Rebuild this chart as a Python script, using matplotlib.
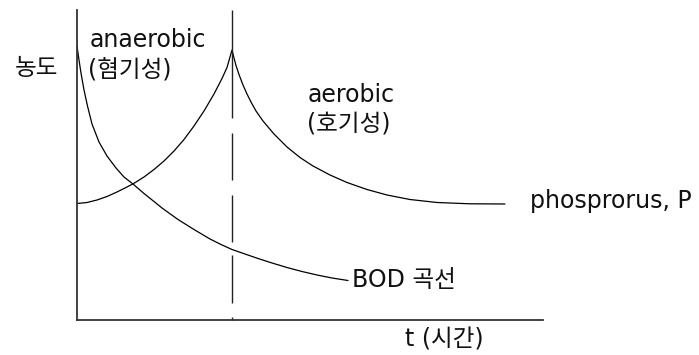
import matplotlib
matplotlib.use("Agg")
import matplotlib.pyplot as plt

plt.rcParams['font.family'] = ['DejaVu Sans', 'Noto Sans CJK KR']

# ---- data (time and concentration in arbitrary units) ----
bod_t = [0, 2, 4, 7, 10.5, 15, 22, 30, 39, 47, 56, 67, 77, 85, 101, 117, 133, 144, 155,
         168, 181, 195, 210, 225, 240, 255, 271]
bod_c = [274, 260, 247, 230, 214, 196, 178, 164, 152, 143, 136, 126.5, 118.5, 112, 100.5, 90.5, 81, 75.5, 70.5,
         66, 61.5, 57, 52.5, 48.5, 45, 42, 39.5]

p_t = [0, 10, 20, 30, 40, 49, 57, 67, 77, 87, 97, 107, 117, 127, 137, 145, 150, 155,
       157, 159, 162, 166, 170, 174, 179, 186, 197, 210, 223, 236, 253, 270, 290, 310, 333, 360, 393, 428]
p_c = [116.5, 117.5, 120, 123.5, 128, 132.5, 136.7, 143, 150.5, 159, 169, 180.5, 194, 209, 226, 241.5, 252.5, 270,
       262, 254.5, 245.5, 235, 226, 218, 209, 199, 186, 173, 162.5, 154, 145, 137.5, 130.5, 125, 120.5, 117.5,
       116.2, 116]

boundary_t = 155
t_max, c_max = 466, 310

y_label = "농도"
x_label = "t (시간)"
p_label = "phosprorus, P"
bod_label = "BOD 곡선"

W, H, DPI = 699, 355, 100
fig = plt.figure(figsize=(W / DPI, H / DPI), dpi=DPI)
ax = fig.add_axes([77 / W, (H - 320) / H, (543 - 77) / W, (320 - 10) / H])
ax.set_xlim(0, t_max)
ax.set_ylim(0, c_max)
for s in ['top', 'right']:
    ax.spines[s].set_visible(False)
for s in ['left', 'bottom']:
    ax.spines[s].set_color('#333333')
    ax.spines[s].set_linewidth(1.3)
ax.set_xticks([])
ax.set_yticks([])

ax.plot(bod_t, bod_c, color='black', lw=0.9, solid_joinstyle='round', solid_capstyle='round')
ax.plot(p_t, p_c, color='black', lw=0.9, solid_joinstyle='round', solid_capstyle='round')

px = 0.72
ax.plot([boundary_t, boundary_t], [c_max, 0], color='#222222', lw=1.0,
        dashes=[108 * px, 15 * px, 47 * px, 15 * px, 47 * px, 13 * px, 48 * px, 14 * px, 20 * px, 0.01],
        clip_on=False)

fs = 17
tc = '#111111'
kw = dict(fontsize=fs, ha='left', va='baseline', color=tc, clip_on=False)
ax.text(13, 273, "anaerobic", **kw)
ax.text(11, 244, "(혐기성)", **kw)
ax.text(231, 218, "aerobic", **kw)
ax.text(230, 190, "(호기성)", **kw)
ax.text(-19, 245, y_label, fontsize=fs, ha='right', va='baseline', color=tc, clip_on=False)
ax.text(453, 112, p_label, **kw)
ax.text(275, 33, bod_label, **kw)
ax.text(328, -27, x_label, **kw)

fig.savefig("out.png", dpi=DPI)
